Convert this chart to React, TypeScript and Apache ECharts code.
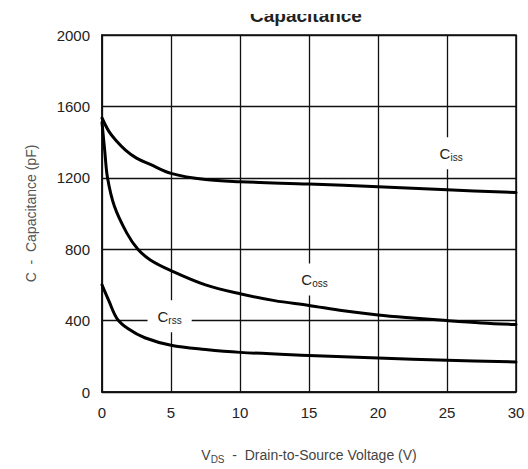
import React, { useEffect, useRef } from "react";
import * as echarts from "echarts";

// Data
const cissV = [0, 0.5, 1, 1.7, 2.5, 3.5, 5, 7.5, 10, 15, 20, 25, 30];
const cissC = [1535, 1460, 1410, 1355, 1310, 1275, 1225, 1190, 1178, 1165, 1150, 1133, 1117];
const cossV = [0, 0.2, 0.4, 0.9, 1.8, 2.6, 3.5, 5, 7.5, 10, 12.5, 15, 17.5, 20, 22.5, 25, 27.5, 30];
const cossC = [1510, 1350, 1200, 1040, 890, 800, 740, 680, 600, 550, 512, 485, 455, 432, 415, 400, 387, 378];
const crssV = [0, 0.5, 1.1, 1.9, 3.1, 5, 7.5, 10, 15, 20, 25, 30];
const crssC = [600, 510, 410, 354, 304, 262, 238, 222, 205, 190, 178, 168];

const curveLabels = [
  { sub: "iss", v: 25.3, c: 1337 },
  { sub: "oss", v: 15.4, c: 630 },
  { sub: "rss", v: 4.9, c: 425 },
];

const xTicks = { min: 0, max: 30, step: 5 };
const yTicks = { min: 0, max: 2000, step: 400 };

const FONT = "'Liberation Sans', Arial, sans-serif";

export default function App() {
  const ref = useRef<HTMLDivElement>(null);
  useEffect(() => {
    if (!ref.current) return;
    const chart = echarts.init(ref.current, null, { renderer: "svg" });
    const pairs = (xs: number[], ys: number[]) => xs.map((x, i) => [x, ys[i]]);
    const lineSeries = (name: string, xs: number[], ys: number[]) => ({
      name,
      type: "line",
      data: pairs(xs, ys),
      smooth: 0.35,
      showSymbol: false,
      symbol: "none",
      lineStyle: { color: "#000", width: 3, cap: "round", join: "round" },
      z: 3,
    });
    chart.setOption({
      animation: false,
      grid: {
        left: 102,
        right: 12,
        top: 35,
        bottom: 72,
        show: true,
        borderColor: "#111",
        borderWidth: 1.5,
        backgroundColor: "transparent",
      },
      graphic: [
        {
          type: "text",
          left: 308 - 58,
          top: 6,
          z: 10,
          style: {
            text: "Capacitance",
            fontSize: 19,
            fontWeight: "bold",
            fontFamily: FONT,
            fill: "#222",
          },
        },
        {
          type: "rect",
          shape: { x: 0, y: 0, width: 528, height: 14 },
          style: { fill: "#fff" },
          z: 20,
        },
      ],
      xAxis: {
        type: "value",
        min: xTicks.min,
        max: xTicks.max,
        interval: xTicks.step,
        name: "{v|V}{s|DS}{t|  -  Drain-to-Source Voltage (V)}",
        nameLocation: "middle",
        nameGap: 54,
        nameTextStyle: {
          color: "#444",
          fontFamily: FONT,
          rich: {
            v: { fontSize: 14, fontFamily: FONT, color: "#444" },
            s: { fontSize: 10, fontFamily: FONT, color: "#444", padding: [8, 0, 0, 0] },
            t: { fontSize: 14, fontFamily: FONT, color: "#444" },
          },
        },
        axisLine: { show: true, lineStyle: { color: "#111", width: 1.5 } },
        axisTick: { show: false },
        splitLine: { show: true, lineStyle: { color: "#111", width: 1.3 } },
        axisLabel: { fontSize: 15, color: "#222", fontFamily: FONT, margin: 13, formatter: (v: number) => String(v) },
      },
      yAxis: {
        type: "value",
        min: yTicks.min,
        max: yTicks.max,
        interval: yTicks.step,
        name: "C  -  Capacitance (pF)",
        nameLocation: "middle",
        nameGap: 64,
        nameTextStyle: { fontSize: 14, color: "#555", fontFamily: FONT },
        axisLine: { show: true, lineStyle: { color: "#111", width: 1.5 } },
        axisTick: { show: false },
        splitLine: { show: true, lineStyle: { color: "#111", width: 1.3 } },
        axisLabel: { fontSize: 15, color: "#222", fontFamily: FONT, margin: 12, formatter: (v: number) => String(v) },
      },
      series: [
        lineSeries("Ciss", cissV, cissC),
        lineSeries("Coss", cossV, cossC),
        lineSeries("Crss", crssV, crssC),
        {
          type: "scatter",
          symbolSize: 0,
          z: 6,
          itemStyle: { opacity: 1 },
          data: curveLabels.map((l) => ({ value: [l.v, l.c], sub: l.sub })),
          label: {
            show: true,
            position: "inside",
            opacity: 1,
            color: "#222",
            backgroundColor: "#ffffff",
            padding: [7, 10],
            formatter: (p: any) => `{m|C}{s|${p.data.sub}}`,
            rich: {
              m: { fontSize: 15, fontFamily: FONT, color: "#222" },
              s: { fontSize: 10, fontFamily: FONT, color: "#222", padding: [8, 0, 0, 0] },
            },
          },
          silent: true,
        },
      ],
    });
    return () => chart.dispose();
  }, []);
  return (
    <div
      ref={ref}
      style={{ position: "fixed", left: 0, top: 0, width: 528, height: 469, background: "#fff" }}
    />
  );
}
